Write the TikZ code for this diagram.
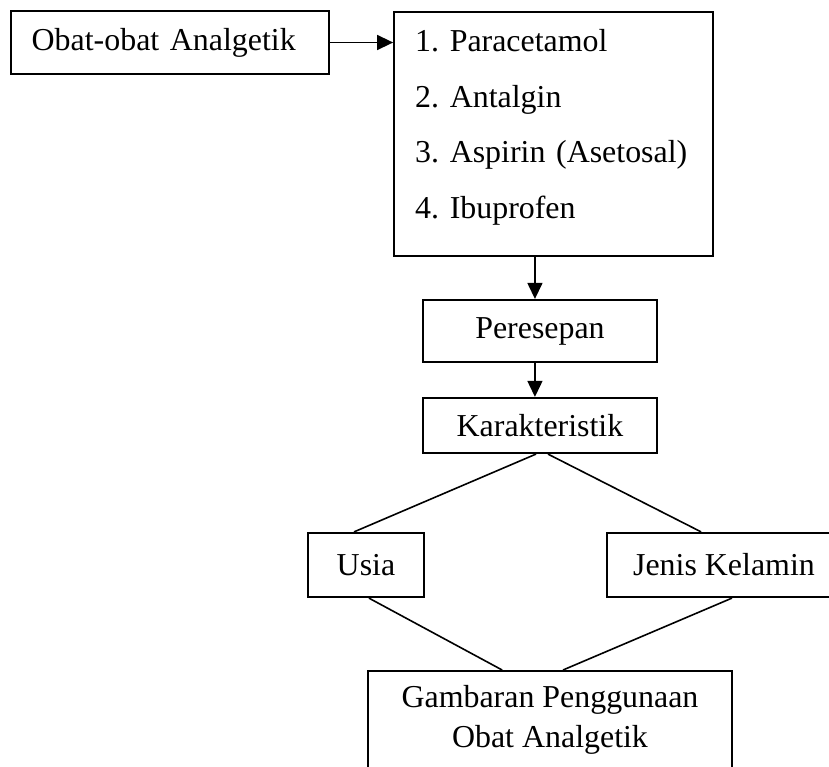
\documentclass[tikz,border=0pt]{standalone}
\usepackage{fontspec}
\setmainfont{Liberation Serif}
\usetikzlibrary{arrows.meta,positioning}

\begin{document}
\begin{tikzpicture}[
    x=0.376pt, y=-0.376pt,
    font=\fontsize{12}{15}\selectfont\frenchspacing,
    box/.style={draw, line width=0.8pt, minimum width=88pt,
                minimum height=23.3pt, align=center, inner sep=2pt},
    lbox/.style={box, align=left, text width=104pt, inner xsep=7.9pt},
    arr/.style={-{Triangle[length=6pt,width=5.6pt]}, line width=0.6pt},
    lnk/.style={line width=0.6pt},
  ]
    \useasboundingbox (0,0) rectangle (829,767);

    \node[lbox, minimum height=23.7pt] (obat) at (170,42.5) {Obat-obat Analgetik};
    \node[lbox, minimum height=91.7pt,
          font=\fontsize{12}{20.9}\selectfont\frenchspacing]
        (list) at (553.5,134)
        {1. Paracetamol\\2. Antalgin\\3. Aspirin (Asetosal)\\4. Ibuprofen\rule[-7.5pt]{0pt}{7.5pt}};
    \node[box]  (per)   at (540,331)   {Peresepan};
    \node[box, minimum height=20.7pt] (kar) at (540,425.5) {Karakteristik};
    \node[box, minimum width=43.6pt, minimum height=24.1pt] (usia)  at (366,565) {Usia};
    \node[box, minimum height=24.1pt] (jenis) at (724,565) {Jenis Kelamin};
    \node[box, minimum width=136.9pt, minimum height=36.8pt] (gamb) at (550,720)
        {Gambaran Penggunaan\\Obat Analgetik};

    \draw[arr] (obat.east) -- (obat.east -| list.west);
    \draw[arr] ([xshift=-1.9pt]per.north |- list.south) -- ([xshift=-1.9pt]per.north);
    \draw[arr] ([xshift=-1.9pt]per.south) -- ([xshift=-1.9pt]kar.north);
    \draw[lnk] ([xshift=-1.5pt]kar.south) -- ([xshift=-4.5pt]usia.north);
    \draw[lnk] ([xshift=3pt]kar.south)    -- ([xshift=-8.6pt]jenis.north);
    \draw[lnk] ([xshift=1.1pt]usia.south) -- ([xshift=-18pt]gamb.north);
    \draw[lnk] ([xshift=3pt]jenis.south)  -- ([xshift=4.9pt]gamb.north);
  \end{tikzpicture}
\end{document}
